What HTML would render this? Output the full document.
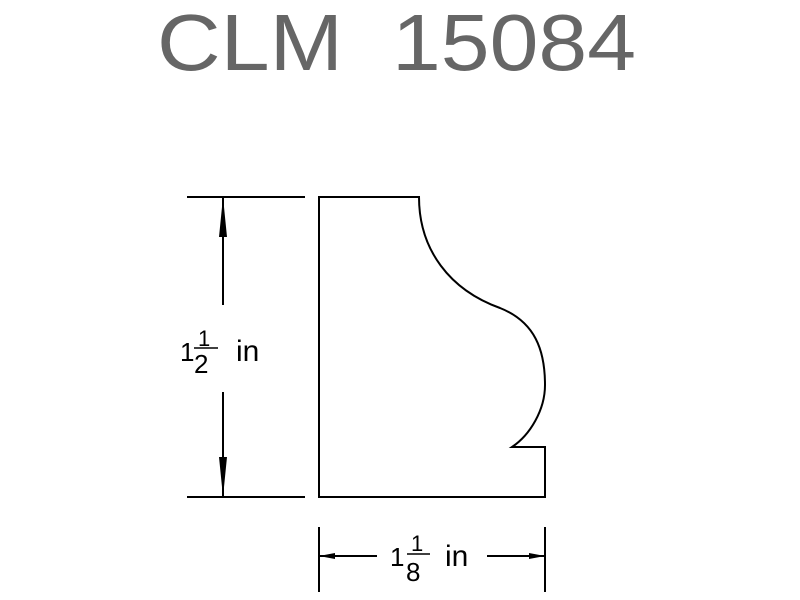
<!DOCTYPE html>
<html><head><meta charset="utf-8"><style>
html,body{margin:0;padding:0;background:#fff;width:800px;height:600px;overflow:hidden}
svg text{font-family:"Liberation Sans",sans-serif;fill:#000}
</style></head><body>
<svg width="800" height="600" viewBox="0 0 800 600" xmlns="http://www.w3.org/2000/svg">
<text x="157" y="70" font-size="80" textLength="186" lengthAdjust="spacingAndGlyphs" style="fill:#666">CLM</text>
<text x="392" y="70" font-size="80" textLength="244" lengthAdjust="spacingAndGlyphs" style="fill:#666">15084</text>
<g stroke="#000" stroke-width="2" fill="none">
<path d="M319,497 L319,197 L419,197 C419,250 450,290 500,308 C535,322 545,350 545,385 C545,410 530,435 512,447 L545,447 L545,497 Z"/>
<line x1="187" y1="197" x2="305" y2="197"/>
<line x1="187" y1="497" x2="305" y2="497"/>
<line x1="223" y1="197" x2="223" y2="305"/>
<line x1="223" y1="392" x2="223" y2="497"/>
<line x1="319" y1="527" x2="319" y2="592"/>
<line x1="545" y1="527" x2="545" y2="592"/>
<line x1="319" y1="556" x2="377" y2="556"/>
<line x1="487" y1="556" x2="545" y2="556"/>
<line x1="194" y1="348" x2="218" y2="348" stroke-width="1.5"/>
<line x1="407" y1="554" x2="430" y2="554" stroke-width="1.5"/>
</g>
<g fill="#000">
<polygon points="223,197 219,237 227,237"/>
<polygon points="223,497 219,457 227,457"/>
<polygon points="319,556 335,553 335,559"/>
<polygon points="545,556 529,553 529,559"/>
</g>
<text x="180" y="361" font-size="26">1</text>
<text x="198" y="346" font-size="22">1</text>
<text x="194" y="373" font-size="26">2</text>
<text x="236" y="361" font-size="30">in</text>
<text x="390" y="566" font-size="26">1</text>
<text x="411" y="551" font-size="22">1</text>
<text x="406" y="581" font-size="26">8</text>
<text x="445" y="566" font-size="30">in</text>
</svg>
</body></html>
